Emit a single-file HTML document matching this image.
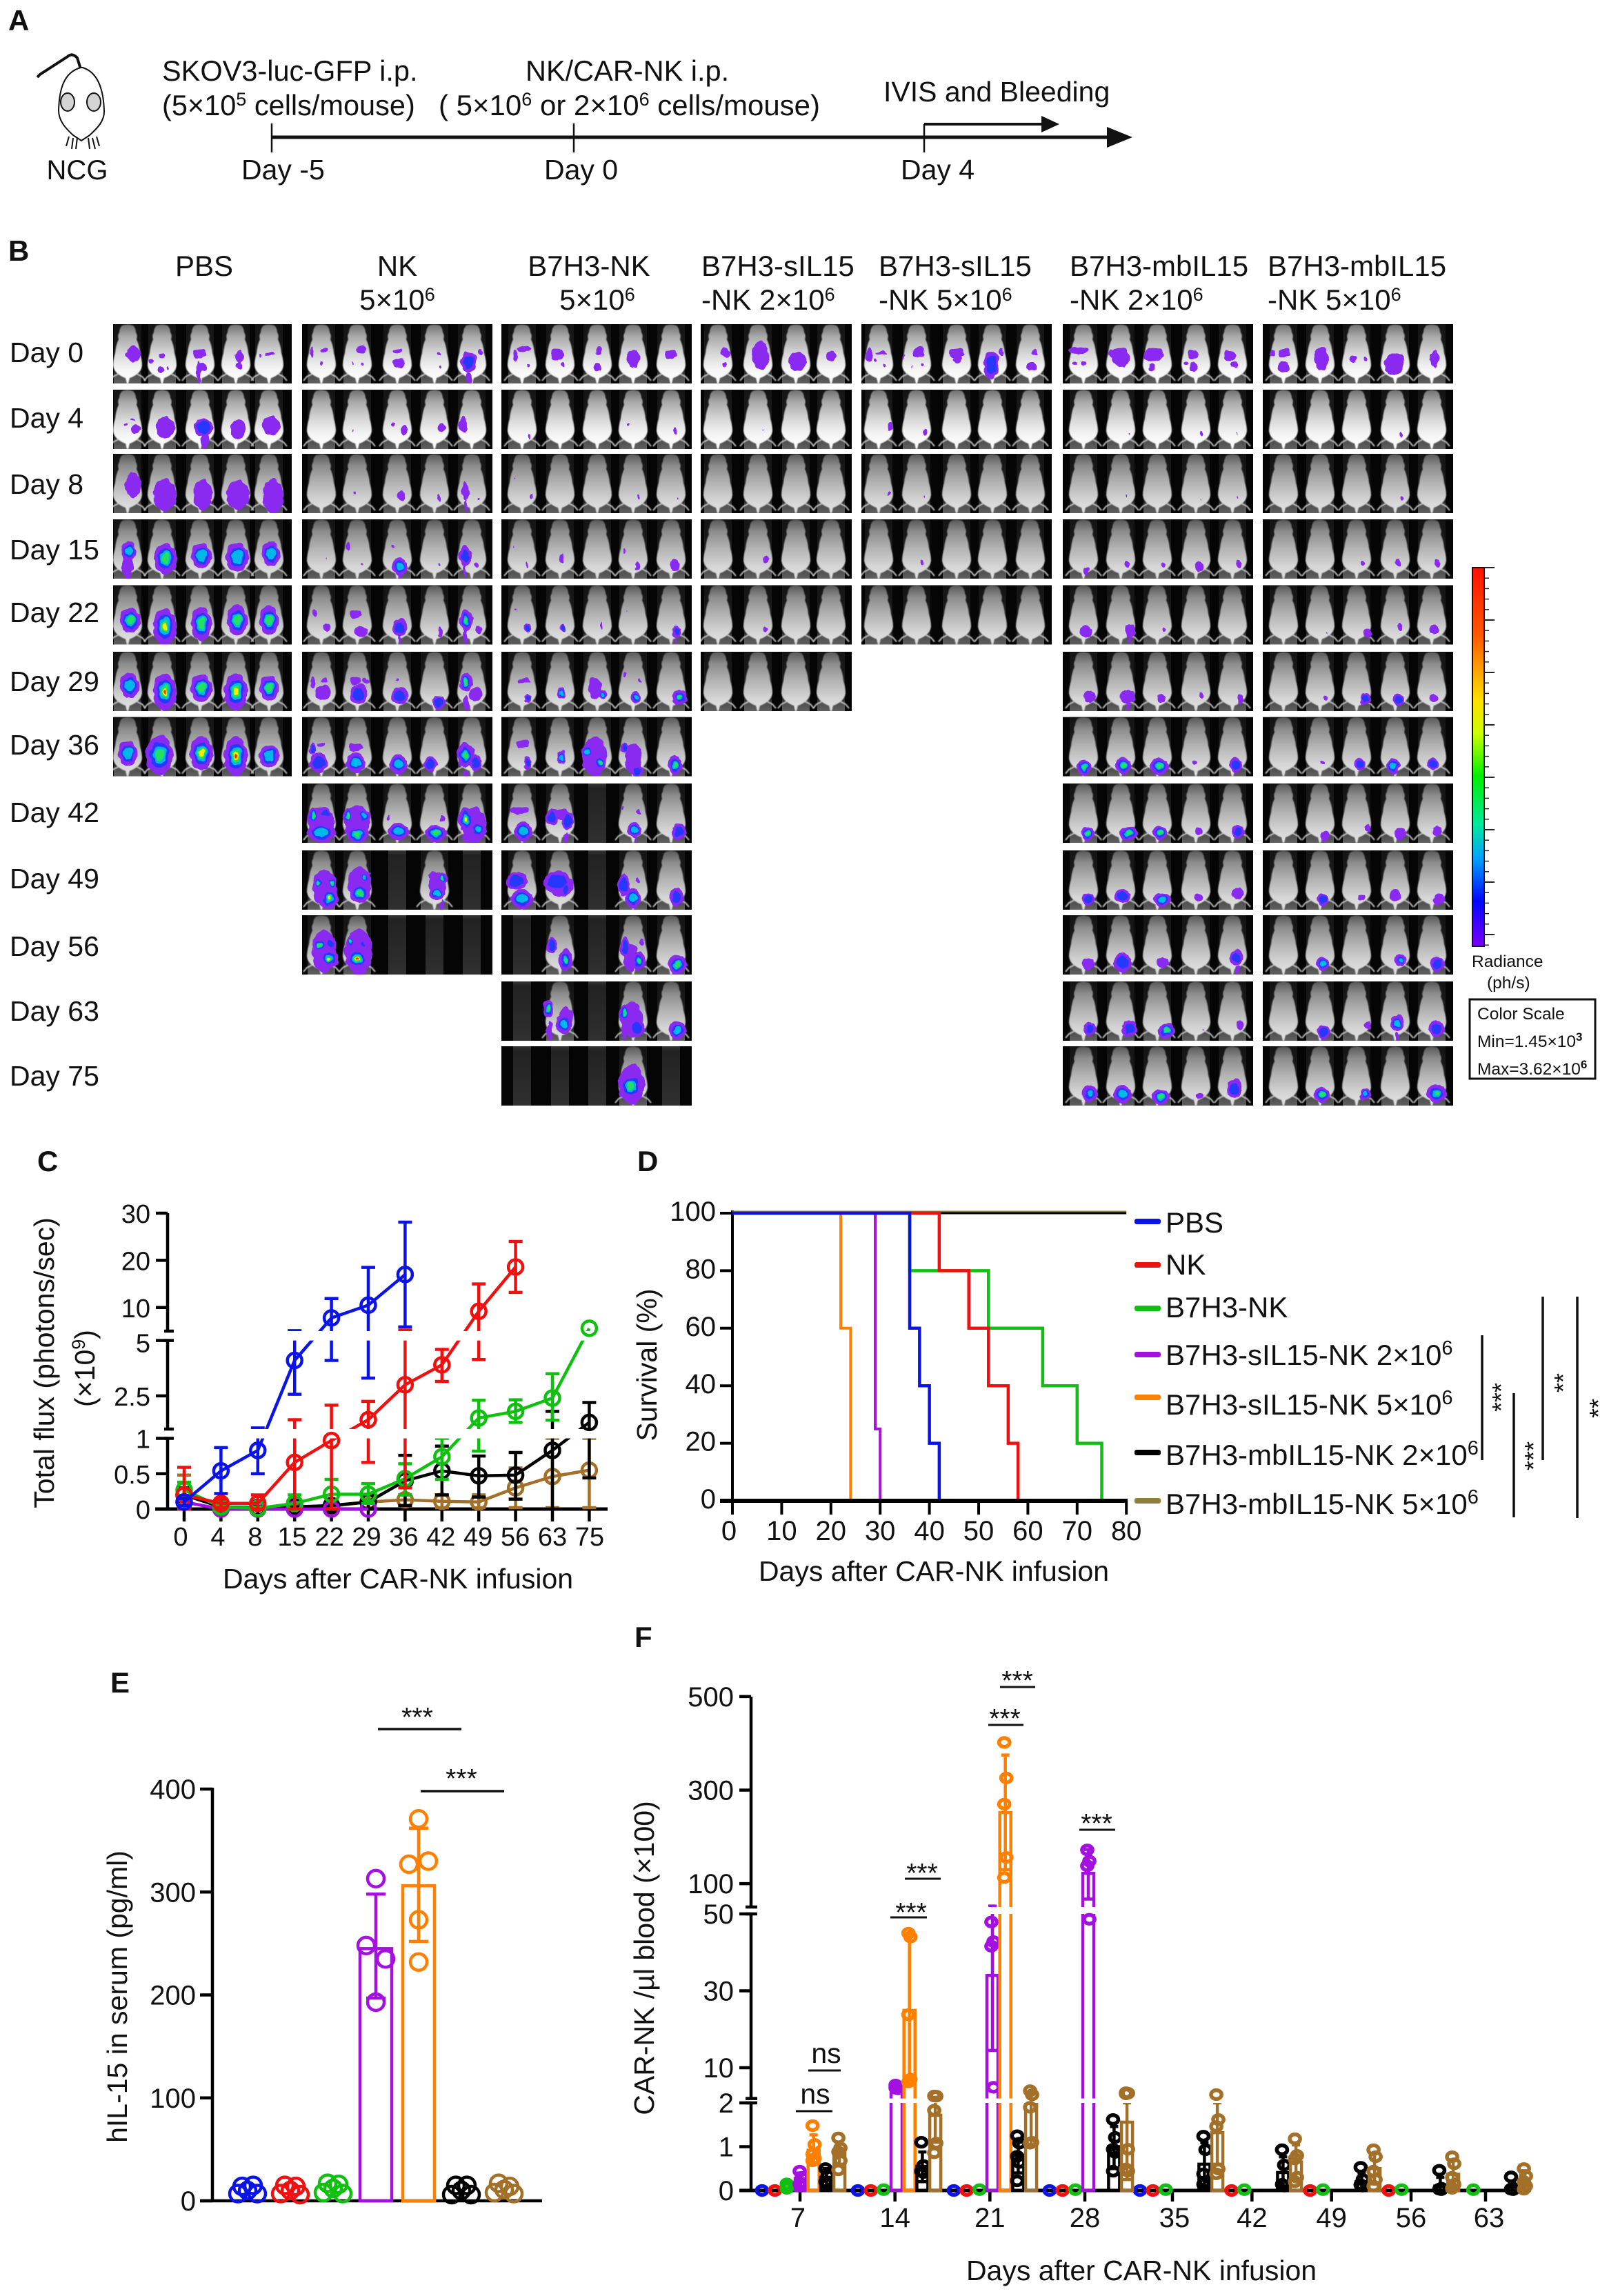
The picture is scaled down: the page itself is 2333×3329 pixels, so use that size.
<!DOCTYPE html>
<html lang="en">
<head>
<meta charset="utf-8">
<title>CAR-NK in vivo figure</title>
<style>
html,body{margin:0;padding:0;background:#fff;}
#fig{display:block;width:2333px;height:3329px;font-family:"Liberation Sans",Arial,sans-serif;}
#fig text{fill:#111;font-family:"Liberation Sans",Arial,sans-serif;}
</style>
</head>
<body>
<svg id="fig" xmlns="http://www.w3.org/2000/svg" width="2333" height="3329" viewBox="0 0 2333 3329">
<defs>
  <linearGradient id="bandG" x1="0" y1="0" x2="0" y2="1"><stop offset="0" stop-color="#141414"/><stop offset=".8" stop-color="#202020"/><stop offset=".87" stop-color="#4e4e4e"/><stop offset="1" stop-color="#606060"/></linearGradient>
  <linearGradient id="ghostG" x1="0" y1="0" x2="0" y2="1"><stop offset="0" stop-color="#343434"/><stop offset=".08" stop-color="#222222"/><stop offset="1" stop-color="#303030"/></linearGradient>
  <linearGradient id="mouseA" x1="0" y1="0" x2="0" y2="1"><stop offset="0" stop-color="#707070"/><stop offset=".2" stop-color="#a8a8a8"/><stop offset=".5" stop-color="#d8d8d8"/><stop offset=".75" stop-color="#f4f4f4"/><stop offset="1" stop-color="#ffffff"/></linearGradient>
  <linearGradient id="mouseB" x1="0" y1="0" x2="0" y2="1"><stop offset="0" stop-color="#585858"/><stop offset=".2" stop-color="#8c8c8c"/><stop offset=".5" stop-color="#b4b4b4"/><stop offset=".78" stop-color="#d4d4d4"/><stop offset="1" stop-color="#e4e4e4"/></linearGradient>
  <linearGradient id="radG" x1="0" y1="0" x2="0" y2="1"><stop offset="0" stop-color="#ff1000"/><stop offset=".18" stop-color="#ff5a00"/><stop offset=".35" stop-color="#ffe000"/><stop offset=".44" stop-color="#c8ff00"/><stop offset=".55" stop-color="#00f000"/><stop offset=".68" stop-color="#00e8a0"/><stop offset=".77" stop-color="#00a0ff"/><stop offset=".88" stop-color="#0008ff"/><stop offset="1" stop-color="#7a00ff"/></linearGradient>
  <filter id="mouseBlur" x="-10%" y="-5%" width="120%" height="110%"><feGaussianBlur stdDeviation="0.8"/></filter>
  <filter id="rough" x="-15%" y="-15%" width="130%" height="130%"><feTurbulence type="fractalNoise" baseFrequency="0.09" numOctaves="2" seed="4" result="n"/><feDisplacementMap in="SourceGraphic" in2="n" scale="7" xChannelSelector="R" yChannelSelector="G"/></filter>
  <path id="mouseShape" d="M-8,2 Q0,-1 8,2 Q12,6 12,12 Q15,16 13,22 Q17,30 18,42 Q21,52 21,60 Q20,68 13,73 Q7,77 3,78 L1,86 L-1,86 L-3,78 Q-7,77 -13,73 Q-20,68 -21,60 Q-21,52 -18,42 Q-17,30 -13,22 Q-15,16 -12,12 Q-12,6 -8,2 Z"/>
</defs>

<g>
  <text x="12" y="44" font-size="42" font-weight="bold">A</text>
  <g fill="none" stroke="#111" stroke-width="2">
    <path d="M117,100 L112,84 Q105,76 98,82 L58,108 L54,112" stroke-width="4"/>
    <path d="M117,98 C92,105 86,130 85,160 C85,175 95,186 106,196 L118,204 L130,196 C141,186 152,175 151,160 C150,130 142,105 120,98 Z" fill="#fff"/>
    <ellipse cx="98" cy="148" rx="10" ry="13" fill="#d4d4d4"/>
    <ellipse cx="136" cy="148" rx="10" ry="13" fill="#d4d4d4"/>
    <path d="M100,198 L96,212 M106,200 L104,216 M112,200 L110,216 M128,200 L130,216 M134,200 L138,216 M140,198 L144,212"/>
  </g>
  <text x="112" y="260" font-size="40" text-anchor="middle">NCG</text>
  <text x="235" y="117" font-size="41.5">SKOV3-luc-GFP i.p.</text>
  <text x="235" y="167" font-size="41.5">(5×10<tspan dy="-14" font-size="27">5</tspan><tspan dy="14"> cells/mouse)</tspan></text>
  <text x="762" y="117" font-size="41.5">NK/CAR-NK i.p.</text>
  <text x="636" y="167" font-size="42">( 5×10<tspan dy="-14" font-size="27">6</tspan><tspan dy="14"> or 2×10</tspan><tspan dy="-14" font-size="27">6</tspan><tspan dy="14"> cells/mouse)</tspan></text>
  <text x="1281" y="147" font-size="41">IVIS and Bleeding</text>
  <line x1="394" y1="199" x2="1615" y2="199" stroke="#111" stroke-width="5"/>
  <path d="M1605,184 L1642,199 L1605,214 Z" fill="#111"/>
  <line x1="394" y1="179" x2="394" y2="221" stroke="#111" stroke-width="2.5"/>
  <line x1="832" y1="179" x2="832" y2="221" stroke="#111" stroke-width="2.5"/>
  <line x1="1340" y1="180" x2="1340" y2="221" stroke="#111" stroke-width="2.5"/>
  <line x1="1340" y1="180" x2="1520" y2="180" stroke="#111" stroke-width="4"/>
  <path d="M1510,168 L1536,180 L1510,192 Z" fill="#111"/>
  <text x="350" y="260" font-size="41">Day -5</text>
  <text x="789" y="260" font-size="41">Day 0</text>
  <text x="1306" y="260" font-size="41">Day 4</text>
</g>

<g font-size="42" text-anchor="middle">
  <text x="12" y="378" font-size="42" font-weight="bold" text-anchor="start">B</text>
  <text x="296" y="400">PBS</text>
  <text x="576" y="400">NK</text>
  <text x="576" y="449">5×10<tspan dy="-13" font-size="27">6</tspan></text>
  <text x="854" y="400">B7H3-NK</text>
  <text x="866" y="449">5×10<tspan dy="-13" font-size="27">6</tspan></text>
  <text x="1017" y="400" text-anchor="start">B7H3-sIL15</text>
  <text x="1017" y="449" text-anchor="start">-NK 2×10<tspan dy="-13" font-size="27">6</tspan></text>
  <text x="1274" y="400" text-anchor="start">B7H3-sIL15</text>
  <text x="1274" y="449" text-anchor="start">-NK 5×10<tspan dy="-13" font-size="27">6</tspan></text>
  <text x="1551" y="400" text-anchor="start">B7H3-mbIL15</text>
  <text x="1551" y="449" text-anchor="start">-NK 2×10<tspan dy="-13" font-size="27">6</tspan></text>
  <text x="1838" y="400" text-anchor="start">B7H3-mbIL15</text>
  <text x="1838" y="449" text-anchor="start">-NK 5×10<tspan dy="-13" font-size="27">6</tspan></text>
</g>
<g id="panelB"></g>

<g>
  <rect x="2135" y="823" width="17" height="549" fill="url(#radG)" stroke="#111" stroke-width="2"/>
  <g id="cbTicks"></g>
  <text x="2134" y="1402" font-size="24.5" fill="#222">Radiance</text>
  <text x="2156" y="1433" font-size="24.5">(ph/s)</text>
  <rect x="2131" y="1449" width="182" height="115" fill="none" stroke="#111" stroke-width="3"/>
  <text x="2142" y="1478" font-size="24.5">Color Scale</text>
  <text x="2142" y="1518" font-size="24.5">Min=1.45×10<tspan dy="-9" font-size="17" font-weight="bold">3</tspan></text>
  <text x="2142" y="1558" font-size="24.5">Max=3.62×10<tspan dy="-9" font-size="17" font-weight="bold">6</tspan></text>
</g>

<g id="panelC">
  <text x="54" y="1698" font-size="42" font-weight="bold">C</text>
  <text font-size="41" text-anchor="middle" transform="translate(78,1976) rotate(-90)">Total flux (photons/sec)</text>
  <text font-size="41" text-anchor="middle" transform="translate(137,1984) rotate(-90)">(×10<tspan dy="-14" font-size="27">9</tspan><tspan dy="14">)</tspan></text>
  <text x="577" y="2303" font-size="41" text-anchor="middle">Days after CAR-NK infusion</text>
</g>

<g id="panelD">
  <text x="924" y="1698" font-size="42" font-weight="bold">D</text>
  <text font-size="41" text-anchor="middle" transform="translate(952,1979) rotate(-90)">Survival (%)</text>
  <text x="1354" y="2292" font-size="41" text-anchor="middle">Days after CAR-NK infusion</text>
  <g font-size="42">
    <text x="1690" y="1787">PBS</text>
    <text x="1690" y="1848">NK</text>
    <text x="1690" y="1910">B7H3-NK</text>
    <text x="1690" y="1979">B7H3-sIL15-NK 2×10<tspan dy="-15" font-size="29">6</tspan></text>
    <text x="1690" y="2051">B7H3-sIL15-NK 5×10<tspan dy="-15" font-size="29">6</tspan></text>
    <text x="1690" y="2124">B7H3-mbIL15-NK 2×10<tspan dy="-15" font-size="29">6</tspan></text>
    <text x="1690" y="2195">B7H3-mbIL15-NK 5×10<tspan dy="-15" font-size="29">6</tspan></text>
  </g>
  <g stroke="#111" stroke-width="3.5">
    <line x1="2149" y1="1936" x2="2149" y2="2117"/>
    <line x1="2195" y1="2020" x2="2195" y2="2200"/>
    <line x1="2237" y1="1880" x2="2237" y2="2117"/>
    <line x1="2287" y1="1880" x2="2287" y2="2201"/>
  </g>
  <g font-size="36" text-anchor="middle">
    <text transform="translate(2189,2026) rotate(-90)">***</text>
    <text transform="translate(2236,2111) rotate(-90)">***</text>
    <text transform="translate(2279,2005) rotate(-90)">**</text>
    <text transform="translate(2330,2042) rotate(-90)">**</text>
  </g>
</g>

<g id="panelE">
  <text x="160" y="2454" font-size="42" font-weight="bold">E</text>
  <text font-size="41" text-anchor="middle" transform="translate(184,2895) rotate(-90)">hIL-15 in serum (pg/ml)</text>
  <line x1="548" y1="2507" x2="669" y2="2507" stroke="#111" stroke-width="3.5"/>
  <line x1="610" y1="2597" x2="731" y2="2597" stroke="#111" stroke-width="3.5"/>
  <text x="605" y="2503" font-size="39" text-anchor="middle">***</text>
  <text x="669" y="2592" font-size="39" text-anchor="middle">***</text>
</g>

<g id="panelF">
  <text x="920" y="2388" font-size="42" font-weight="bold">F</text>
  <text font-size="41" text-anchor="middle" transform="translate(948,2839) rotate(-90)">CAR-NK /µl blood (×100)</text>
  <text x="1655" y="3306" font-size="41" text-anchor="middle">Days after CAR-NK infusion</text>
  <g stroke="#111" stroke-width="3">
    <line x1="1154" y1="3061" x2="1207" y2="3061"/>
    <line x1="1172" y1="3002" x2="1219" y2="3002"/>
    <line x1="1291" y1="2780" x2="1344" y2="2780"/>
    <line x1="1312" y1="2724" x2="1364" y2="2724"/>
    <line x1="1433" y1="2501" x2="1484" y2="2501"/>
    <line x1="1450" y1="2446" x2="1501" y2="2446"/>
    <line x1="1565" y1="2653" x2="1617" y2="2653"/>
  </g>
  <g font-size="39" text-anchor="middle">
    <text x="1182" y="3050" font-size="41">ns</text>
    <text x="1198" y="2991" font-size="41">ns</text>
    <text x="1321" y="2786">***</text>
    <text x="1337" y="2729">***</text>
    <text x="1457" y="2505">***</text>
    <text x="1475" y="2450">***</text>
    <text x="1590" y="2657">***</text>
  </g>
</g>
</svg>

<script>
/* ---------- Panel C data (total flux, x10^9) ---------- */
const cDays = ['0','4','8','15','22','29','36','42','49','56','63','75'];
const cYTicks = [0,0.5,1,2.5,5,10,20,30];
const cPbsMean = [0.1,0.54,0.83,4.1,7.8,10.5,17];
const cPbsHi = [0.15,0.87,1.05,5.1,11.9,18.5,28.1];
const cPbsLo = [0.05,0.22,0.5,2.57,4.1,3.3,5.9];
const cNkMean = [0.2,0.08,0.08,0.66,0.97,1.42,3.0,3.9,9.2,18.6];
const cNkHi = [0.59,0.14,0.2,1.42,2.08,2.25,5.2,4.6,15,24];
const cNkLo = [0,0.02,0,0,0,0.66,0.3,3.15,4.14,13.2];
const cCarMean = [0.27,0.03,0.01,0.08,0.21,0.21,0.43,0.74,1.5,1.8,2.4,5.6];
const cCarHi = [0.38,0.06,0.03,0.2,0.42,0.36,0.64,1.0,2.3,2.32,3.5,5.6];
const cCarLo = [0.15,0,0,0,0,0.08,0.2,0.42,0.82,1.3,1.4,5.6];
const cSilLowMean = [0.1,0,0,0,0,0];
const cMbLowMean = [0.2,0.03,0.02,0.03,0.05,0.1,0.4,0.54,0.47,0.48,0.83,1.3];
const cMbLowHi = [0.3,0.05,0.04,0.12,0.1,0.2,0.76,0.89,0.75,0.8,1.8,2.2];
const cMbLowLo = [0.1,0,0,0,0,0,0.05,0.2,0.17,0.14,0,0.44];
const cMbHighMean = [0.2,0.03,0.02,0.03,0.04,0.1,0.13,0.11,0.1,0.3,0.46,0.55];
const cMbHighHi = [0.48,0.05,0.04,0.06,0.06,0.14,0.2,0.2,0.2,0.58,1.0,1.0];
const cMbHighLo = [0,0,0,0,0,0.02,0.05,0.02,0.02,0.02,0.02,0.02];

/* ---------- Panel D data (survival %) ---------- */
const dXTicks = [0,10,20,30,40,50,60,70,80];
const dYTicks = [0,20,40,60,80,100];
const dMbLowDays = [0,80];
const dMbLowSurv = [100,100];
const dOrangeDays = [0,22,24];
const dOrangeSurv = [100,60,0];
const dPurpleDays = [0,29,30];
const dPurpleSurv = [100,25,0];
const dGreenDays = [0,36,52,63,70,75];
const dGreenSurv = [100,80,60,40,20,0];
const dRedDays = [0,42,48,52,56,58];
const dRedSurv = [100,80,60,40,20,0];
const dBlueDays = [0,36,38,40,42];
const dBlueSurv = [100,60,40,20,0];

/* ---------- Panel E data (hIL-15 pg/ml) ---------- */
const eGroups = ['pbs','nk','b7h3-nk','sil15-low','sil15-high','mbil15-low','mbil15-high'];
const eYTicks = [0,100,200,300,400];
const eMeans = [11,11,12,245,306,11,11];
const eHi = [null,null,null,298,362,null,null];
const eLo = [null,null,null,197,252,null,null];
const ePbsPts = [14,15,10,7,7];
const eNkPts = [15,14,10,7,6];
const eCarPts = [17,16,12,8,7];
const eSilLowPts = [313,248,235,193];
const eSilHighPts = [371,330,327,273,232];
const eMbLowPts = [15,15,10,6,6];
const eMbHighPts = [17,14,11,8,7];

/* ---------- Panel F data (CAR-NK x100 per ul) ---------- */
const fDays = [7,14,21,28,35,42,49,56,63];
const fYTicks = [0,1,2,10,30,50,100,300,500];
const fBluePts = [[0],[0],[0],[0],[0],null,null,null,null];
const fRedPts = [[0],[0],[0],[0],[0],[0],[0],[0],null];
const fGreenPts = [[0.05,0.1,0.15],[0.02],[0.02],[0.02],[0.02],[0.02],[0.02],[0.02],[0.02]];
const fPurpleMean = [0.27,4.2,34,122,null,null,null,null,null];
const fPurpleHi = [0.4,5.3,52,173,null,null,null,null,null];
const fPurpleLo = [0.1,3.5,14.5,67,null,null,null,null,null];
const fPurplePts = [[0.44,0.3,0.15,0.1],[5.5,5,4.8,4.5],[47.9,42.8,41.6,4.9],[172,148,138,48.6],null,null,null,null,null];
const fOrangeMean = [0.92,24.9,252,null,null,null,null,null,null];
const fOrangeHi = [1.27,45,375,null,null,null,null,null,null];
const fOrangeLo = [0.6,6.8,130,null,null,null,null,null,null];
const fOrangePts = [[1.48,1.05,0.83,0.73,0.68],[45,44,23.8,7,6.3],[402,326,270,156,113],null,null,null,null,null,null];
const fBlackMean = [0.3,0.55,0.8,1.0,0.6,0.41,0.2,0.1,0.08];
const fBlackHi = [0.5,0.88,1.1,1.46,1.09,0.77,0.4,0.3,0.2];
const fBlackLo = [0.1,0.2,0.4,0.5,0.1,0.1,0.02,0,0];
const fBlackPts = [[0.5,0.34,0.2,0.15],[1.1,0.57,0.44,0.41],[1.25,1.08,0.78,0.64,0.22],[1.62,1.21,0.94,0.87,0.44],[1.24,0.93,0.38,0.2,0.14],[0.93,0.58,0.14,0.1],[0.53,0.25,0.13,0.1],[0.46,0.05,0.03,0.02],[0.31,0.05,0.03,0.02]];
const fBrownMean = [0.86,1.72,2.0,1.56,1.32,0.65,0.5,0.37,0.22];
const fBrownHi = [1.1,2.3,3.2,2.0,2.0,1.04,0.85,0.7,0.45];
const fBrownLo = [0.6,1.1,1.05,0.25,0.6,0.25,0.15,0.05,0.02];
const fBrownPts = [[1.2,0.97,0.88,0.68,0.47],[2.65,2.6,1.83,1.08,0.86],[4,2.95,1.9,1.1,1.08],[3.5,3.36,3.2,0.94,0.49,0.44],[3,1.62,1.46,0.49,0.38],[1.18,0.8,0.72,0.3,0.2],[0.93,0.77,0.44,0.25,0.1],[0.77,0.61,0.3,0.14,0.05],[0.5,0.33,0.2,0.1,0.03]];

/* ---------- Panel B imaging table: blobs per mouse, dx,y,rx,ry,level; x = empty slot ---------- */
const bRowLabels = ['Day 0','Day 4','Day 8','Day 15','Day 22','Day 29','Day 36','Day 42','Day 49','Day 56','Day 63','Day 75'];
const bRowCentres = [511,606,702,797,888,988,1080,1178,1274,1372,1466,1560];
const bColPbs = [
 '8,43,10,12,0|-15,53,3,4,0 0,46,3,4,0 -2,66,4,5,0 8,63,2,3,0|0,43,9,7,0 -2,70,3,16,0 3,62,8,6,0|5,47,6,9,0 5,60,5,5,0|2,43,6,3,0 -13,45,2,2,0',
 '12,57,7,6,0 7,44,4,2,0 -2,51,2,2,0|0,41,2,2,0 5,55,14,16,0|5,55,14,13,1 7,70,6,15,0|3,58,11,14,0|3,52,13,14,0',
 '8,45,11,18,0|4,59,17,23,0|4,59,14,22,0|3,59,17,21,0|6,61,15,25,0',
 '2,46,10,14,2 0,66,8,20,0|5,57,17,22,3|2,53,15,18,2|2,55,17,21,2|3,50,13,18,2',
 '4,51,15,18,3|4,60,17,26,4|2,56,15,24,3|2,51,15,22,3|0,51,14,21,3',
 '3,49,14,18,2|4,58,17,26,5|2,53,16,20,3|0,58,17,26,4|0,53,14,18,3',
 '0,53,14,18,2|-4,55,20,28,3|2,53,17,24,4|0,57,17,28,5|0,57,15,16,2'];
const bColNk = [
 '-14,40,3,7,0 4,38,6,3,0 0,57,2,3,0|6,37,8,6,0 -7,57,1,3,0 8,57,2,2,0|1,39,6,3,0 2,57,9,6,0|6,44,3,3,0 9,61,2,2,0|-5,55,11,15,1 -4,78,4,8,0 13,40,3,4,0',
 '|-7,60,1,2,0|-5,50,3,4,0 10,59,5,7,0|10,55,6,5,0|-12,51,6,12,0',
 '|-4,57,2,2,0|6,61,6,8,0|6,64,3,6,0|-9,54,6,13,0 -8,76,2,10,0 10,65,2,2,0',
 '8,56,1,1,0|-13,39,4,6,0 6,64,2,2,0|4,68,11,13,2 -5,39,2,2,0 4,80,3,6,0|6,65,2,3,0|-9,53,9,15,1 -10,75,2,10,0 6,66,4,5,0',
 '-9,40,4,5,0 8,61,6,6,0|-2,42,8,6,0 6,67,10,8,0|4,62,11,12,1 4,78,2,6,0|8,67,4,8,0|-8,51,9,16,3 10,65,6,7,0 -9,75,3,12,0',
 '2,60,12,10,0 -12,44,4,8,0 4,42,5,4,0|2,62,13,14,1 -2,42,7,6,0 12,42,5,4,0|4,64,13,12,1 0,40,2,2,0|6,73,9,10,1|-8,44,9,14,3 6,62,10,10,0 -8,75,4,12,0',
 '-4,66,13,14,1 -12,46,5,8,1 0,40,5,3,0|-2,66,14,14,2 -2,44,10,6,0|2,68,13,14,2|-6,68,9,11,1|-9,55,12,18,3 6,66,9,12,1 -9,82,4,5,0',
 '0,58,19,24,0 -11,46,8,11,3 6,44,10,8,1 0,71,20,14,2|-13,46,7,10,3 9,47,10,10,2 -4,39,8,4,0 0,58,18,26,0 0,74,15,12,3|2,69,15,12,2 -13,49,2,4,0|2,72,15,12,3 11,51,4,4,0|4,60,17,26,0 -8,52,11,18,4 9,66,12,12,2 -4,79,10,8,0',
 '5,55,18,26,0 -4,47,6,9,3 15,47,7,9,3 11,69,13,15,4|3,50,17,25,0 11,39,7,6,2 4,62,15,14,3 4,33,15,5,0|x|4,52,12,20,0 12,40,6,8,3 4,62,12,10,2 -2,37,5,6,0 11,80,2,8,0|x',
 '4,52,18,30,0 -2,43,9,9,3 13,41,6,8,1 11,63,14,13,4|2,52,20,32,0 -9,38,6,8,3 8,43,5,6,1 0,63,17,14,5 3,80,10,6,0|x|x|x'];
const bColCar = [
 '4,36,10,4,0 -9,46,4,8,0 10,59,2,2,0|-4,44,9,9,0 4,58,3,3,0|2,39,4,7,0 0,62,5,6,0|0,50,9,13,0|0,44,8,7,0',
 '10,68,2,5,0|||-6,50,2,3,0|6,59,3,5,0',
 '14,62,2,5,0 -9,36,1,2,0|||8,62,2,4,0|10,64,1,2,0',
 '6,66,2,6,0 -12,41,1,1,0|2,57,3,6,0||-13,45,2,3,0 6,67,4,7,0|6,66,7,9,0',
 '8,62,6,7,1 -8,35,2,2,0|4,62,4,6,1|6,58,2,5,0|-8,38,1,2,0|8,67,7,9,1 8,80,2,3,0',
 '4,42,9,4,0 8,67,6,7,1|2,60,6,8,2|-4,53,9,16,0 8,62,7,7,2|-12,33,3,5,0 4,66,7,9,2 10,42,3,3,0|12,66,11,11,3',
 '2,39,9,6,0 8,66,6,10,1|2,59,6,9,2|-4,57,18,28,0 -14,50,8,9,2 4,66,8,10,3|-12,44,6,6,1 6,79,8,8,1 0,60,12,22,0|6,69,10,14,3',
 '-4,39,15,5,0 2,69,13,14,2|-11,49,9,12,1 11,54,9,14,1 0,45,18,8,0 9,79,3,7,0|x|8,42,4,4,0 2,67,10,11,2 4,82,2,4,0 -16,36,2,3,0|11,69,10,12,1',
 '-8,44,15,13,1 0,70,16,14,2|0,50,20,17,0 -4,45,20,15,1 8,57,6,8,1|x|-13,50,9,16,1 0,69,11,14,2 6,45,3,5,0|8,67,10,13,1',
 'x|-11,43,8,12,1 8,65,10,15,3|x|-4,61,10,20,0 -11,46,7,16,1 8,66,10,13,3 13,38,3,5,0|9,71,13,14,3',
 'x|-17,39,8,12,3 9,49,10,12,0 6,62,12,14,2 -15,72,4,14,0|x|-2,55,16,25,0 -12,45,8,11,3 6,67,11,13,1 -13,78,3,8,0|9,70,12,13,2',
 'x|x|x|-2,55,19,28,0 -4,58,17,18,3|x'];
const bColSilLow = [
 '10,42,7,8,0 10,58,3,3,0|4,46,12,20,0|2,54,13,14,0|0,46,6,8,0',
 '|8,58,1,1,0||','|||','|12,58,4,5,0||','|11,64,4,5,0||','|||'];
const bColSilHigh = [
 '-13,44,5,10,0 5,42,8,3,0 -4,52,2,3,0 9,59,2,2,0|-18,47,1,4,0 4,41,8,9,0 -7,62,1,2,0 9,58,2,2,0|1,42,11,7,0 1,52,5,5,0|-2,59,11,20,1 13,40,3,6,0|6,42,5,5,0 2,61,8,6,0',
 '17,53,4,7,0|13,62,3,6,0|||',
 '15,57,2,3,0|12,61,1,2,0|||',
 '|8,62,3,4,0|||',
 '||||'];
const bColMbLow = [
 '-8,38,15,5,0 -13,57,3,3,0 0,57,4,3,0|0,48,13,14,0 -14,42,4,5,0|-5,44,14,10,0 -8,63,5,6,0|-4,44,7,7,0 -4,62,6,7,0 -14,57,3,3,0|-4,46,8,8,0 3,58,6,4,0',
 '|13,64,1,2,0||8,63,3,4,0|6,62,1,2,0',
 '|9,60,1,2,0||6,67,1,3,0|7,62,1,2,0',
 '4,75,4,5,0|9,65,5,6,0|8,66,4,5,0|5,68,6,8,0|9,65,5,7,0',
 '4,67,9,9,0|13,66,8,10,0 13,79,2,4,0|10,64,3,4,0||',
 '9,65,9,9,0|10,65,11,10,0 11,79,2,5,0|6,67,6,7,0|8,63,4,5,0|11,68,5,8,0',
 '1,73,10,11,3|4,70,11,12,3|3,71,13,12,3|-2,66,3,3,0|5,69,9,11,1',
 '6,72,9,10,3|11,72,13,10,3|4,71,10,10,3|4,69,5,6,0|8,69,9,10,1',
 '7,70,9,9,1|3,66,12,10,1|7,71,12,10,2|4,68,6,6,0|8,63,9,9,0',
 '7,70,9,9,0|3,68,13,14,1|8,68,9,8,0||6,62,10,11,1 8,79,3,6,0',
 '9,68,9,10,1|12,68,11,12,1|13,71,12,11,3|10,71,2,1,0|11,64,6,8,0',
 '9,68,11,12,2|3,69,13,13,2|5,73,12,11,3|5,72,5,4,0|3,62,11,13,1'];
const bColMbHigh = [
 '-16,42,4,4,0 2,42,8,7,0 0,62,9,8,0|2,50,10,17,0|-5,50,5,6,0 12,51,3,3,0|-2,58,14,16,0 8,50,4,6,0|4,50,6,12,0',
 '|||8,65,3,5,0|',
 '|||10,64,3,4,0 |',
 '||9,63,4,4,0|4,63,4,6,0|8,64,5,7,0',
 '|9,70,1,2,0|15,70,6,7,0|7,60,4,6,0|4,64,7,7,0',
 '|7,67,4,5,0|12,68,8,9,1|5,69,8,9,1|3,67,6,6,0',
 '|3,66,3,3,0|5,68,8,9,1|-3,71,9,11,2|2,68,8,9,1',
 '|7,76,6,7,0|16,65,4,6,0|7,72,8,9,0|8,68,7,8,0',
 '|4,71,8,9,1|7,68,6,5,0|0,65,8,9,0|10,70,8,9,0',
 '|4,70,9,10,2||8,65,9,9,2|8,70,10,11,1',
 '|5,73,9,10,1|16,64,5,6,0|3,61,10,11,2 3,79,3,6,0|7,68,11,12,1',
 '|3,70,11,11,3|12,69,8,9,2||7,68,14,13,3'];

/* ---------- helpers ---------- */
const NS = 'http://www.w3.org/2000/svg';
function mk(tag, name, attrs, parent) {
  const el = document.createElementNS(NS, tag);
  
  
  for (const k in attrs) el.setAttribute(k, attrs[k]);
  parent.appendChild(el);
  return el;
}
function label(name, x, y, s, size, anchor, parent) {
  const t = mk('text', name, {x: x, y: y, 'font-size': size, 'text-anchor': anchor}, parent);
  t.textContent = s;
  return t;
}
const COL = {blue:'#0a14e6', red:'#f01010', green:'#10c010', purple:'#a410e0', orange:'#ff8000', black:'#000000', brown:'#a27028', olive:'#8f7f3a'};

/* ---------- Panel B ---------- */
(function () {
  const root = document.getElementById('panelB');
  const rowTop = [470,565,658,753,848.5,945,1039.6,1136,1233,1327,1423,1517];
  const colDefs = [
    {n:'pbs', x:164, w:259, c:[185,235,290,342,390], d:bColPbs},
    {n:'nk', x:438, w:276, c:[466,518,576,630,684], d:bColNk},
    {n:'b7h3-nk', x:727, w:276, c:[757,812,866,918,973], d:bColCar},
    {n:'sil15-low', x:1016, w:219, c:[1041,1099,1154,1205], d:bColSilLow},
    {n:'sil15-high', x:1249, w:276, c:[1274,1329,1387,1439,1494], d:bColSilHigh},
    {n:'mbil15-low', x:1541, w:276, c:[1571,1625,1678,1734,1787], d:bColMbLow},
    {n:'mbil15-high', x:1831, w:276, c:[1861,1914,1967,2023,2076], d:bColMbHigh}
  ];
  const layerCol = ['#8a2cf0','#2838ff','#00b8e8','#20e060','#f0f000','#ff2a00'];
  const layerScale = [1,0.66,0.46,0.32,0.2,0.11];
  bRowLabels.forEach(function (s, i) {
    label('row-label-' + s.toLowerCase().replace(' ', '-'), 14, bRowCentres[i] + 14, s, 41, 'start', root);
  });
  colDefs.forEach(function (col, ci) {
    col.d.forEach(function (rowStr, r) {
      const cell = mk('g', 'image-' + col.n + '-row-' + r, {}, root);
      const clip = mk('clipPath', 'cell-clip', {id: 'cl' + ci + '_' + r}, cell);
      mk('rect', 'cell-clip-rect', {x: col.x, y: rowTop[r], width: col.w, height: 86}, clip);
      const inner = mk('g', 'cell-contents', {'clip-path': 'url(#cl' + ci + '_' + r + ')'}, cell);
      mk('rect', 'cell-background', {x: col.x, y: rowTop[r], width: col.w, height: 86, fill: '#050505'}, inner);
      const mice = rowStr.split('|');
      const bright = r < 2 ? 'url(#mouseA)' : 'url(#mouseB)';
      col.c.forEach(function (cx, m) {
        const spec = (mice[m] || '').trim();
        const y0 = rowTop[r];
        if (spec === 'x') {
          mk('rect', 'empty-slot', {x: cx - 13, y: y0, width: 26, height: 86, fill: 'url(#ghostG)'}, inner);
          return;
        }
        mk('rect', 'mouse-band', {x: cx - 20, y: y0, width: 40, height: 86, fill: 'url(#bandG)'}, inner);
        const mg = mk('g', 'mouse', {transform: 'translate(' + cx + ',' + y0 + ')', filter: 'url(#mouseBlur)'}, inner);
        mk('use', 'mouse-body', {href: '#mouseShape', fill: bright}, mg);
        mk('path', 'mouse-legs', {d: 'M-13,72 L-21,76 L-26,82 M13,72 L21,76 L26,82', fill: 'none', stroke: '#c4c4c4', 'stroke-width': 2}, mg);
        if (spec) {
          const bg = mk('g', 'signal', {transform: 'translate(' + cx + ',' + y0 + ')', filter: 'url(#rough)'}, inner);
          const blobs = spec.split(' ').filter(Boolean).map(function (b) { return b.split(',').map(Number); });
          for (let lay = 0; lay <= 5; lay++) {
            blobs.forEach(function (b) {
              if (b[4] >= lay) {
                mk('ellipse', 'signal-layer', {cx: b[0], cy: b[1], rx: Math.max(b[2] * layerScale[lay], 1), ry: Math.max(b[3] * layerScale[lay], 1), fill: layerCol[lay]}, bg);
              }
            });
          }
        }
      });
    });
  });
  const cb = document.getElementById('cbTicks');
  for (let i = 0; i <= 36; i++) {
    const y = 823 + i * 15.2;
    mk('line', 'colorbar-tick', {x1: 2152, x2: i % 5 === 0 ? 2167 : 2159, y1: y, y2: y, stroke: '#222', 'stroke-width': i % 5 === 0 ? 2 : 1.5}, cb);
  }
})();

/* ---------- Panel C ---------- */
(function () {
  const root = document.getElementById('panelC');
  const xC = function (i) { return 267 + i * 53.4; };
  const yC = function (v) {
    if (v <= 1) return 2188 - v * 102.5;
    if (v <= 5) return 2072 - (v - 1) * 32.1;
    return 1930 - (v - 5) * 6.84;
  };
  const axis = mk('g', 'c-axes', {stroke: '#000', 'stroke-width': 4.5}, root);
  [[1759,1930],[yC(5),2072],[yC(1),2190]].forEach(function (s) {
    mk('line', 'c-y-axis-segment', {x1: 243, x2: 243, y1: s[0], y2: s[1]}, axis);
  });
  [1930, yC(5), 2072, yC(1)].forEach(function (y) {
    mk('line', 'c-y-axis-break', {x1: 238, x2: 252, y1: y, y2: y}, axis);
  });
  mk('line', 'c-x-axis', {x1: 225, x2: 881, y1: 2188, y2: 2188, 'stroke-width': 5}, axis);
  cYTicks.forEach(function (v) {
    const y = yC(v);
    mk('line', 'c-y-tick', {x1: 226, x2: 243, y1: y, y2: y}, axis);
    label('c-y-tick-label', 218, y + 14 + (v === 5 ? 3 : 0), String(v), 38, 'end', root);
  });
  cDays.forEach(function (d, i) {
    mk('line', 'c-x-tick', {x1: xC(i), x2: xC(i), y1: 2188, y2: 2206}, axis);
    label('c-x-tick-label', 262 + i * 53.9, 2241, d, 38, 'middle', root);
  });
  const clip = mk('clipPath', 'c-break-clip', {id: 'cClip'}, root);
  [[1700,1930],[yC(5),2072],[yC(1),2240]].forEach(function (s) {
    mk('rect', 'c-clip-band', {x: 230, y: s[0], width: 680, height: s[1] - s[0]}, clip);
  });
  const series = [
    ['brown', COL.brown, cMbHighMean, cMbHighHi, cMbHighLo],
    ['black', COL.black, cMbLowMean, cMbLowHi, cMbLowLo],
    ['purple', COL.purple, cSilLowMean, null, null],
    ['green', COL.green, cCarMean, cCarHi, cCarLo],
    ['red', COL.red, cNkMean, cNkHi, cNkLo],
    ['blue', COL.blue, cPbsMean, cPbsHi, cPbsLo]
  ];
  series.forEach(function (s) {
    const g = mk('g', 'c-series-' + s[0], {}, root);
    const cg = mk('g', 'c-series-clipped-' + s[0], {'clip-path': 'url(#cClip)', stroke: s[1], 'stroke-width': 4.5, fill: 'none'}, g);
    if (s[3]) {
      s[2].forEach(function (m, i) {
        if (s[3][i] === s[4][i]) return;
        const x = xC(i);
        mk('line', 'c-error-bar', {x1: x, x2: x, y1: yC(s[3][i]), y2: yC(s[4][i])}, cg);
        mk('line', 'c-error-cap-high', {x1: x - 10, x2: x + 10, y1: yC(s[3][i]), y2: yC(s[3][i])}, cg);
        mk('line', 'c-error-cap-low', {x1: x - 10, x2: x + 10, y1: yC(s[4][i]), y2: yC(s[4][i])}, cg);
      });
    }
    mk('polyline', 'c-line-' + s[0], {points: s[2].map(function (v, i) { return xC(i) + ',' + yC(v); }).join(' ')}, cg);
    s[2].forEach(function (v, i) {
      mk('circle', 'c-point-' + s[0], {cx: xC(i), cy: yC(v), r: 10.5, fill: 'none', stroke: s[1], 'stroke-width': 4.5}, g);
    });
  });
})();

/* ---------- Panel D ---------- */
(function () {
  const root = document.getElementById('panelD');
  const xD = function (t) { return 1062 + t * 7.14; };
  const yD = function (s) { return 2176 - s * 4.17; };
  const axis = mk('g', 'd-axes', {stroke: '#000', 'stroke-width': 4}, root);
  mk('line', 'd-y-axis', {x1: xD(0), x2: xD(0), y1: yD(100) - 4, y2: 2196}, axis);
  dYTicks.forEach(function (v) {
    mk('line', 'd-y-tick', {x1: 1044, x2: xD(0), y1: yD(v), y2: yD(v)}, axis);
    label('d-y-tick-label', 1038, yD(v) + 11, String(v), 40, 'end', root);
  });
  dXTicks.forEach(function (v) {
    mk('line', 'd-x-tick', {x1: xD(v), x2: xD(v), y1: 2176, y2: 2196}, axis);
    label('d-x-tick-label', xD(v) - (v === 0 ? 5 : 0), 2233, String(v), 40, 'middle', root);
  });
  function step(days, surv) {
    let d = 'M' + xD(days[0]) + ' ' + yD(surv[0]);
    for (let i = 1; i < days.length; i++) {
      d += ' H' + xD(days[i]);
      d += ' V' + yD(surv[i]);
    }
    return d;
  }
  mk('path', 'd-curve-mbil15-high', {d: step(dMbLowDays, dMbLowSurv), transform: 'translate(0,-2)', fill: 'none', stroke: COL.olive, 'stroke-width': 3}, root);
  mk('path', 'd-curve-mbil15-low', {d: step(dMbLowDays, dMbLowSurv), fill: 'none', stroke: COL.black, 'stroke-width': 3}, root);
  mk('path', 'd-curve-sil15-high', {d: step(dOrangeDays, dOrangeSurv), fill: 'none', stroke: COL.orange, 'stroke-width': 4}, root);
  mk('path', 'd-curve-b7h3-nk', {d: step(dGreenDays, dGreenSurv), fill: 'none', stroke: COL.green, 'stroke-width': 4.5}, root);
  mk('path', 'd-curve-nk', {d: step(dRedDays, dRedSurv), fill: 'none', stroke: COL.red, 'stroke-width': 4.5}, root);
  mk('path', 'd-curve-sil15-low', {d: step(dPurpleDays, dPurpleSurv), fill: 'none', stroke: COL.purple, 'stroke-width': 4}, root);
  mk('path', 'd-curve-pbs', {d: step(dBlueDays, dBlueSurv), fill: 'none', stroke: COL.blue, 'stroke-width': 4.5}, root);
  mk('line', 'd-x-axis', {x1: 1044, x2: 1635, y1: 2176, y2: 2176, stroke: '#000', 'stroke-width': 6}, root);
  const sw = [[COL.blue,1771],[COL.red,1834],[COL.green,1897],[COL.purple,1964],[COL.orange,2026],[COL.black,2106],[COL.olive,2176]];
  sw.forEach(function (s, i) {
    mk('rect', 'legend-swatch-' + i, {x: 1645, y: s[1] - 4, width: 38, height: 8, rx: 3, fill: s[0]}, root);
  });
})();

/* ---------- Panel E ---------- */
(function () {
  const root = document.getElementById('panelE');
  const xE = function (i) { return 359 + i * 62; };
  const yE = function (v) { return 3191 - v * 1.4925; };
  const axis = mk('g', 'e-axes', {stroke: '#000', 'stroke-width': 4.5}, root);
  mk('line', 'e-y-axis', {x1: 308, x2: 308, y1: yE(400) - 2, y2: 3193}, axis);
  mk('line', 'e-x-axis', {x1: 290, x2: 786, y1: 3191, y2: 3191}, axis);
  eYTicks.forEach(function (v) {
    mk('line', 'e-y-tick', {x1: 290, x2: 308, y1: yE(v), y2: yE(v)}, axis);
    label('e-y-tick-label', 284, yE(v) + 14, String(v), 40, 'end', root);
  });
  const cols = [COL.blue, COL.red, COL.green, COL.purple, COL.orange, COL.black, COL.brown];
  const pts = [ePbsPts, eNkPts, eCarPts, eSilLowPts, eSilHighPts, eMbLowPts, eMbHighPts];
  const jitterSmall = [-8, 8, 0, -14, 14];
  const jitterPurple = [0, -14, 14, 0];
  const jitterOrange = [0, 14, -14, 0, 0];
  eGroups.forEach(function (g, i) {
    const grp = mk('g', 'e-group-' + g, {fill: 'none', stroke: cols[i], 'stroke-width': 4.5}, root);
    const x = xE(i);
    if (eHi[i] !== null) {
      mk('rect', 'e-bar-' + g, {x: x - 23, y: yE(eMeans[i]), width: 46, height: 3191 - yE(eMeans[i])}, grp);
      mk('line', 'e-error-' + g, {x1: x, x2: x, y1: yE(eHi[i]), y2: yE(eLo[i])}, grp);
      mk('line', 'e-error-cap-high-' + g, {x1: x - 14, x2: x + 14, y1: yE(eHi[i]), y2: yE(eHi[i])}, grp);
      mk('line', 'e-error-cap-low-' + g, {x1: x - 14, x2: x + 14, y1: yE(eLo[i]), y2: yE(eLo[i])}, grp);
    }
    const jit = i === 3 ? jitterPurple : i === 4 ? jitterOrange : jitterSmall;
    pts[i].forEach(function (v, k) {
      mk('circle', 'e-point-' + g, {cx: x + jit[k], cy: yE(v), r: 12}, grp);
    });
  });
})();

/* ---------- Panel F ---------- */
(function () {
  const root = document.getElementById('panelF');
  function interp(d, dom, ran) {
    for (let i = 1; i < dom.length; i++) {
      if (d <= dom[i]) return ran[i - 1] + (d - dom[i - 1]) / (dom[i] - dom[i - 1]) * (ran[i] - ran[i - 1]);
    }
    return ran[ran.length - 1];
  }
  const xTick = function (d) { return interp(d, [7,28,35,56,63], [1160,1573,1700,2046,2154]); };
  const xGroup = function (d) { return interp(d, [7,28,35,56,63], [1161,1578,1709,2051,2155]); };
  const yF = function (v) {
    if (v <= 2) return 3176 - v * 63.5;
    if (v <= 50) return 3042.6 - (v - 2) * 5.575;
    return 2765 - (v - 50) * 0.678;
  };
  const axis = mk('g', 'f-axes', {stroke: '#000', 'stroke-width': 4.5}, root);
  [[2460,2765],[2775,3042.6],[3049,3178]].forEach(function (s) {
    mk('line', 'f-y-axis-segment', {x1: 1089, x2: 1089, y1: s[0], y2: s[1]}, axis);
  });
  [2765,2775,3042.6,3049].forEach(function (y) {
    mk('line', 'f-y-axis-break', {x1: 1081, x2: 1098, y1: y, y2: y}, axis);
  });
  mk('line', 'f-x-axis', {x1: 1072, x2: 2213, y1: 3176, y2: 3176, 'stroke-width': 5}, axis);
  fYTicks.forEach(function (v) {
    mk('line', 'f-y-tick', {x1: 1072, x2: 1089, y1: yF(v), y2: yF(v)}, axis);
    label('f-y-tick-label', 1064, yF(v) + 14, String(v), 40, 'end', root);
  });
  fDays.forEach(function (d) {
    mk('line', 'f-x-tick', {x1: xTick(d), x2: xTick(d), y1: 3176, y2: 3192}, axis);
    const nudge = d === 7 ? -3 : d === 35 ? 3 : d === 63 ? 5 : 0;
    label('f-x-tick-label', xTick(d) + nudge, 3229, String(d), 40, 'middle', root);
  });
  const clip = mk('clipPath', 'f-break-clip', {id: 'fClip'}, root);
  [[2400,2765],[2775,3042.6],[3049,3190]].forEach(function (s) {
    mk('rect', 'f-clip-band', {x: 1090, y: s[0], width: 1130, height: s[1] - s[0]}, clip);
  });
  const series = [
    ['pbs', COL.blue, -3, null, null, null, fBluePts],
    ['nk', COL.red, -2, null, null, null, fRedPts],
    ['b7h3-nk', COL.green, -1, null, null, null, fGreenPts],
    ['sil15-low', COL.purple, 0, fPurpleMean, fPurpleHi, fPurpleLo, fPurplePts],
    ['sil15-high', COL.orange, 1, fOrangeMean, fOrangeHi, fOrangeLo, fOrangePts],
    ['mbil15-low', COL.black, 2, fBlackMean, fBlackHi, fBlackLo, fBlackPts],
    ['mbil15-high', COL.brown, 3, fBrownMean, fBrownHi, fBrownLo, fBrownPts]
  ];
  series.forEach(function (s) {
    const g = mk('g', 'f-series-' + s[0], {fill: 'none', stroke: s[1], 'stroke-width': 4.5}, root);
    const cg = mk('g', 'f-bars-' + s[0], {'clip-path': 'url(#fClip)'}, g);
    fDays.forEach(function (d, i) {
      const x = xGroup(d) + s[2] * 18.7;
      if (s[3] && s[3][i] !== null) {
        mk('rect', 'f-bar-' + s[0] + '-day-' + d, {x: x - 8, y: yF(s[3][i]), width: 16, height: 3176 - yF(s[3][i])}, cg);
        mk('line', 'f-error-' + s[0] + '-day-' + d, {x1: x, x2: x, y1: yF(s[4][i]), y2: yF(s[5][i])}, cg);
        mk('line', 'f-error-cap-high-' + s[0], {x1: x - 6, x2: x + 6, y1: yF(s[4][i]), y2: yF(s[4][i])}, cg);
        mk('line', 'f-error-cap-low-' + s[0], {x1: x - 6, x2: x + 6, y1: yF(s[5][i]), y2: yF(s[5][i])}, cg);
      }
      if (s[6][i]) {
        s[6][i].forEach(function (v, k) {
          const jit = s[6][i].length > 1 ? (k % 2 ? 1.5 : -1.5) : 0;
          mk('ellipse', 'f-point-' + s[0] + '-day-' + d, {cx: x + jit, cy: yF(v), rx: 7.6, ry: 6.4, 'stroke-width': 5.5}, g);
        });
      }
    });
  });
})();
</script>
</body>
</html>
